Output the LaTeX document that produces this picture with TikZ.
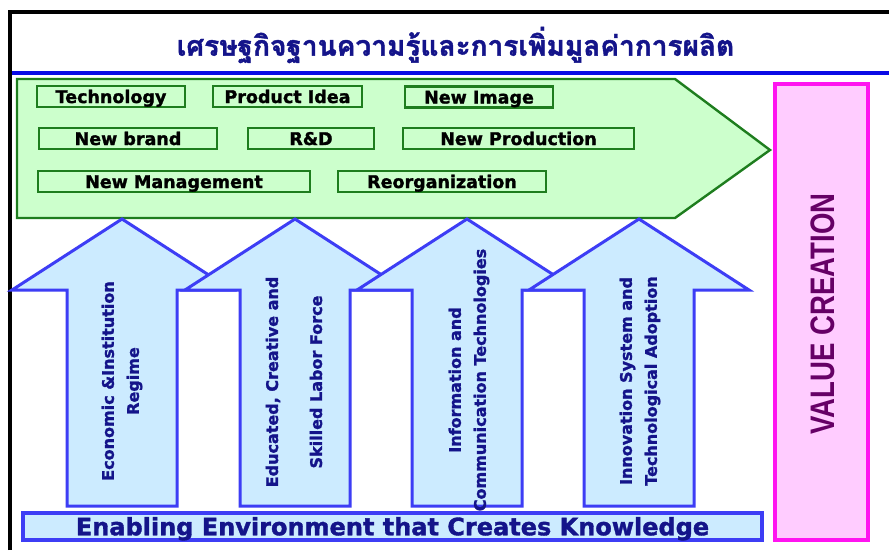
\documentclass[tikz,border=0pt]{standalone}
\usepackage{fontspec}
\setmainfont{DejaVu Sans}[BoldFeatures={FakeBold=1.5}]
\newfontfamily\thaifont[Script=Thai,BoldFeatures={FakeBold=1.5}]{Loma}
\newfontfamily\arialfont{Liberation Sans}
\usepackage{tikz}
\definecolor{navy}{HTML}{14148A}
\definecolor{rulecol}{HTML}{0A0AE6}
\definecolor{leaf}{HTML}{CCFFCC}
\definecolor{leafline}{HTML}{1E7D1E}
\definecolor{sky}{HTML}{CCEBFF}
\definecolor{skyline}{HTML}{3D3DF5}
\definecolor{rose}{HTML}{FFCCFF}
\definecolor{roseline}{HTML}{FF14F0}
\definecolor{plum}{HTML}{660066}
\tikzset{
  framerule/.style={draw=black, line width=3.5pt, line join=miter},
  bluerule/.style={draw=rulecol, line width=3.4pt},
  greenband/.style={fill=leaf, draw=leafline, line width=2.4pt, line join=miter},
  itembox/.style={draw=leafline, line width=2.6pt, fill=leaf, inner sep=0pt,
    minimum height=21pt, text height=13pt, text depth=0pt,
    font=\fontsize{17.5}{20}\selectfont\bfseries},
  pillar/.style={fill=sky, draw=skyline, line width=3pt, line join=miter},
  pillartext/.style={rotate=90, align=center, text=navy, inner sep=0pt,
    font=\fontsize{16}{25}\selectfont\bfseries},
  basebar/.style={fill=sky, draw=skyline, line width=3.2pt, inner sep=0pt,
    text=navy, text height=17.5pt, text depth=0pt,
    font=\fontsize{24}{28}\selectfont\bfseries},
  valuebox/.style={fill=rose, draw=roseline, line width=4pt},
  valuetext/.style={rotate=90, text=plum, inner sep=0pt,
    font=\arialfont\fontsize{34}{38}\selectfont\bfseries},
  titletext/.style={text=navy, inner sep=0pt,
    font=\thaifont\fontsize{28}{30}\selectfont\bfseries},
}

\begin{document}
\begin{tikzpicture}[x=1pt,y=-1pt]
  \useasboundingbox (0,0) rectangle (889,550);
  \fill[white] (0,0) rectangle (889,550);
  \draw[framerule] (10,550) -- (10,12) -- (889,12);
  \node[titletext] (title) at (455.5,45) {เศรษฐกิจฐานความรู้และการเพิ่มมูลค่าการผลิต};
  \draw[bluerule] (12,73) -- (889,73);
  \draw[greenband] (17,79) -- (675,79) -- (770,150) -- (675,218) -- (17,218) -- cycle;
  \foreach \n/\x/\y/\w/\s in {tech/111/96.5/148/Technology, idea/287.5/96.5/149/Product Idea,
      img/479/97/148/New Image, brand/128/138.5/178/New brand, rd/311/138.5/126/R\&D,
      prod/518.5/138.5/231/New Production, mgmt/174/181.5/272/New Management,
      reorg/442/181.5/208/Reorganization}
    \node[itembox, minimum width=\w] (\n) at (\x,\y) {\s};
  \foreach \t in {122,295,467,639}
    \draw[pillar] (\t,219) -- ++(110,71) -- ++(-55,0) -- ++(0,216) -- ++(-110,0)
      -- ++(0,-216) -- ++(-55,0) -- cycle;
  \node[pillartext] (regime) at (122,381) {Economic \&Institution\\Regime};
  \node[pillartext] (labor) at (294,382) {Educated, Creative and\\[19pt]Skilled Labor Force};
  \node[pillartext] (ict) at (469,380) {Information and\\Communication Technologies};
  \node[pillartext] (innov) at (640,381) {Innovation System and\\Technological Adoption};
  \node[basebar, minimum width=739, minimum height=27] (base) at (392.5,526.5)
    {Enabling Environment that Creates Knowledge};
  \draw[valuebox] (775,84) rectangle (868,540);
  \node[valuetext] (value) at (822.5,314) {\scalebox{0.81}[1]{VALUE CREATION}};
\end{tikzpicture}
\end{document}
